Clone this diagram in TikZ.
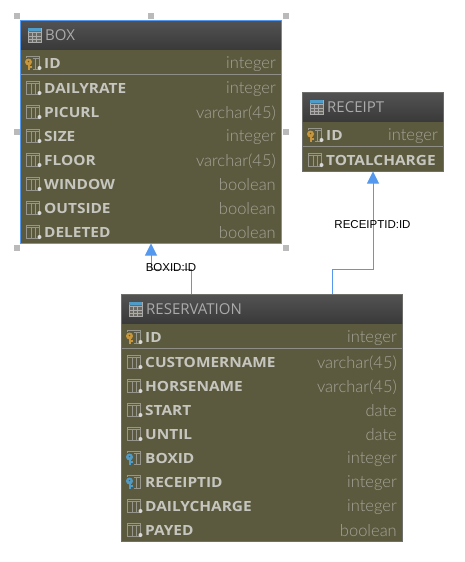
\documentclass[tikz,border=0pt]{standalone}
\usepackage{fontspec}
\setmainfont{Open Sans}
\newfontfamily\namefont[FakeStretch=1.1]{Open Sans}
\newfontfamily\typefont{Lato Light}
\newfontfamily\linkfont{Liberation Sans}
\usetikzlibrary{arrows.meta}

\definecolor{tablebody}{HTML}{5C5A3E}
\definecolor{tableedge}{HTML}{6F6F6B}
\definecolor{headtop}{HTML}{525252}
\definecolor{headlow}{HTML}{3A3A3A}
\definecolor{namecol}{HTML}{C6C6C0}
\definecolor{typecol}{HTML}{A5A498}
\definecolor{titlecol}{HTML}{ABABAB}
\definecolor{iconcol}{HTML}{96968C}
\definecolor{sepcol}{HTML}{8E8E86}
\definecolor{selblue}{HTML}{5599EE}
\definecolor{keygold}{HTML}{C8963C}
\definecolor{keyblue}{HTML}{4F9CC8}

\tikzset{
  tablebox/.style={draw=tableedge,fill=tablebody,line width=1pt,inner sep=0pt,outer sep=0pt},
  headbox/.style={top color=headtop,bottom color=headlow,inner sep=0pt,outer sep=0pt},
  titletext/.style={anchor=west,inner sep=0pt,yshift=-.5pt,text=titlecol,font=\fontsize{15}{15}\selectfont},
  nametext/.style={anchor=west,inner sep=0pt,yshift=-.4pt,text=namecol,font=\namefont\fontsize{14}{14}\selectfont\bfseries},
  typetext/.style={anchor=east,inner sep=0pt,yshift=-1pt,text=typecol,font=\typefont\fontsize{16.5}{16.5}\selectfont},
  rowsep/.style={draw=sepcol,line width=1pt},
  fklink/.style={draw=selblue,line width=1pt,-{Triangle[width=12pt,length=12pt,fill=selblue]}},
  linktext/.style={inner sep=0pt,text=black,font=\linkfont\fontsize{11.5}{11.5}\selectfont},
  handle/.style={fill=black!27,draw=none,minimum size=6pt,inner sep=0pt},
  gridicon/.pic={
    \draw[iconcol,line width=.7pt] (0,-7) rectangle (13,6);
    \draw[iconcol,line width=.7pt] (0,-5) -- (13,-5) (4.5,-5) -- (4.5,6) (8.5,-5) -- (8.5,6);
  },
  colicon/.pic={
    \pic {gridicon};
    \fill[white!85!black] (13,5) circle (2);
  },
  pkicon/.pic={
    \pic {colicon};
    \fill[tablebody] (-1,-5) rectangle (6,8);
    \fill[keygold,even odd rule] (2,-1) circle (3.5) (2,-1.5) circle (1.2);
    \fill[keygold] (1,1) rectangle (3,7);
    \fill[keygold] (3,3) rectangle (5,5);
  },
  fkicon/.pic={
    \pic {gridicon};
    \fill[tablebody] (-1,-5) rectangle (6,8);
    \fill[keyblue,even odd rule] (2,-1) circle (3.5) (2,-1.5) circle (1.2);
    \fill[keyblue] (1,1) rectangle (3,7);
    \fill[keyblue] (3,3) rectangle (5,5);
  },
  tabicon/.pic={
    \fill[iconcol!70!black] (0,-7) rectangle (13,7);
    \draw[titlecol,line width=.7pt] (0,-7) rectangle (13,7);
    \draw[titlecol,line width=.7pt] (0,-3) -- (13,-3) (0,1) -- (13,1) (0,4) -- (13,4) (4.5,-3) -- (4.5,7) (8.5,-3) -- (8.5,7);
    \fill[keyblue] (0,-7) rectangle (13,-4);
  }
}

\begin{document}
\begin{tikzpicture}[x=1pt,y=-1pt]
   \useasboundingbox (0,0) rectangle (464,562);

   % selection handles of BOX
   \node[handle] (h1) at (17,16) {};
   \node[handle] (h2) at (151,16) {};
   \node[handle] (h3) at (286,16) {};
   \node[handle] (h4) at (17,132) {};
   \node[handle] (h5) at (286,132) {};
   \node[handle] (h6) at (17,248) {};
   \node[handle] (h7) at (286,248) {};

   % BOX
   \node[tablebox,draw=selblue,minimum width=261pt,minimum height=223pt] (box) at (151,132) {};
   \node[headbox,minimum width=260pt,minimum height=28pt] (boxhead) at (151,35) {};
   \pic at (28,35) {tabicon};
   \node[titletext] (boxtitle) at (45,35) {BOX};
   \draw[rowsep] (21,74.5) -- (281,74.5);
   \pic at (26.5,63) {pkicon};
   \node[nametext] (b1) at (44,63) {ID};
   \node[typetext] (bt1) at (276,63) {integer};
   \pic at (26.5,88) {colicon};
   \node[nametext] (b2) at (44,88) {DAILYRATE};
   \node[typetext] (bt2) at (276,88) {integer};
   \pic at (26.5,112) {colicon};
   \node[nametext] (b3) at (44,112) {PICURL};
   \node[typetext] (bt3) at (276,112) {varchar(45)};
   \pic at (26.5,136) {colicon};
   \node[nametext] (b4) at (44,136) {SIZE};
   \node[typetext] (bt4) at (276,136) {integer};
   \pic at (26.5,160) {colicon};
   \node[nametext] (b5) at (44,160) {FLOOR};
   \node[typetext] (bt5) at (276,160) {varchar(45)};
   \pic at (26.5,184) {colicon};
   \node[nametext] (b6) at (44,184) {WINDOW};
   \node[typetext] (bt6) at (276,184) {boolean};
   \pic at (26.5,208) {colicon};
   \node[nametext] (b7) at (44,208) {OUTSIDE};
   \node[typetext] (bt7) at (276,208) {boolean};
   \pic at (26.5,232) {colicon};
   \node[nametext] (b8) at (44,232) {DELETED};
   \node[typetext] (bt8) at (276,232) {boolean};

   % RECEIPT
   \node[tablebox,minimum width=141pt,minimum height=79pt] (receipt) at (373,132) {};
   \node[headbox,minimum width=140pt,minimum height=28pt] (receipthead) at (373,107) {};
   \pic at (310,107) {tabicon};
   \node[titletext] (receipttitle) at (327,107) {RECEIPT};
   \draw[rowsep] (303,146.5) -- (443,146.5);
   \pic at (308.5,135) {pkicon};
   \node[nametext] (r1) at (326,135) {ID};
   \node[typetext] (rt1) at (438,135) {integer};
   \pic at (308.5,160) {colicon};
   \node[nametext] (r2) at (326,160) {TOTALCHARGE};

   % RESERVATION
   \node[tablebox,minimum width=281pt,minimum height=247pt] (reservation) at (262,417.75) {};
   \node[headbox,minimum width=280pt,minimum height=28pt] (reservationhead) at (262,309) {};
   \pic at (129,309) {tabicon};
   \node[titletext] (reservationtitle) at (146,309) {RESERVATION};
   \draw[rowsep] (122,348.5) -- (402,348.5);
   \pic at (127.5,337) {pkicon};
   \node[nametext] (s1) at (145,337) {ID};
   \node[typetext] (st1) at (397,337) {integer};
   \pic at (127.5,362) {colicon};
   \node[nametext] (s2) at (145,362) {CUSTOMERNAME};
   \node[typetext] (st2) at (397,362) {varchar(45)};
   \pic at (127.5,386) {colicon};
   \node[nametext] (s3) at (145,386) {HORSENAME};
   \node[typetext] (st3) at (397,386) {varchar(45)};
   \pic at (127.5,410) {colicon};
   \node[nametext] (s4) at (145,410) {START};
   \node[typetext] (st4) at (397,410) {date};
   \pic at (127.5,434) {colicon};
   \node[nametext] (s5) at (145,434) {UNTIL};
   \node[typetext] (st5) at (397,434) {date};
   \pic at (127.5,458) {fkicon};
   \node[nametext] (s6) at (145,458) {BOXID};
   \node[typetext] (st6) at (397,458) {integer};
   \pic at (127.5,482) {fkicon};
   \node[nametext] (s7) at (145,482) {RECEIPTID};
   \node[typetext] (st7) at (397,482) {integer};
   \pic at (127.5,506) {colicon};
   \node[nametext] (s8) at (145,506) {DAILYCHARGE};
   \node[typetext] (st8) at (397,506) {integer};
   \pic at (127.5,530) {colicon};
   \node[nametext] (s9) at (145,530) {PAYED};
   \node[typetext] (st9) at (397,530) {boolean};

   % foreign keys
   \coordinate (resbox) at (191.5,294);
   \coordinate (resrec) at (332.5,294);
   \coordinate (boxmid) at (171,269);
   \coordinate (recbend) at (373,269);
   \draw[fklink] (resbox) |- (boxmid) -| (box.south);
   \draw[fklink] (resrec) |- (recbend) -- (receipt.south);
   \node[linktext] (boxlabel) at (171,268) {BOXID:ID};
   \node[linktext] (reclabel) at (372.5,224.5) {RECEIPTID:ID};
\end{tikzpicture}
\end{document}
